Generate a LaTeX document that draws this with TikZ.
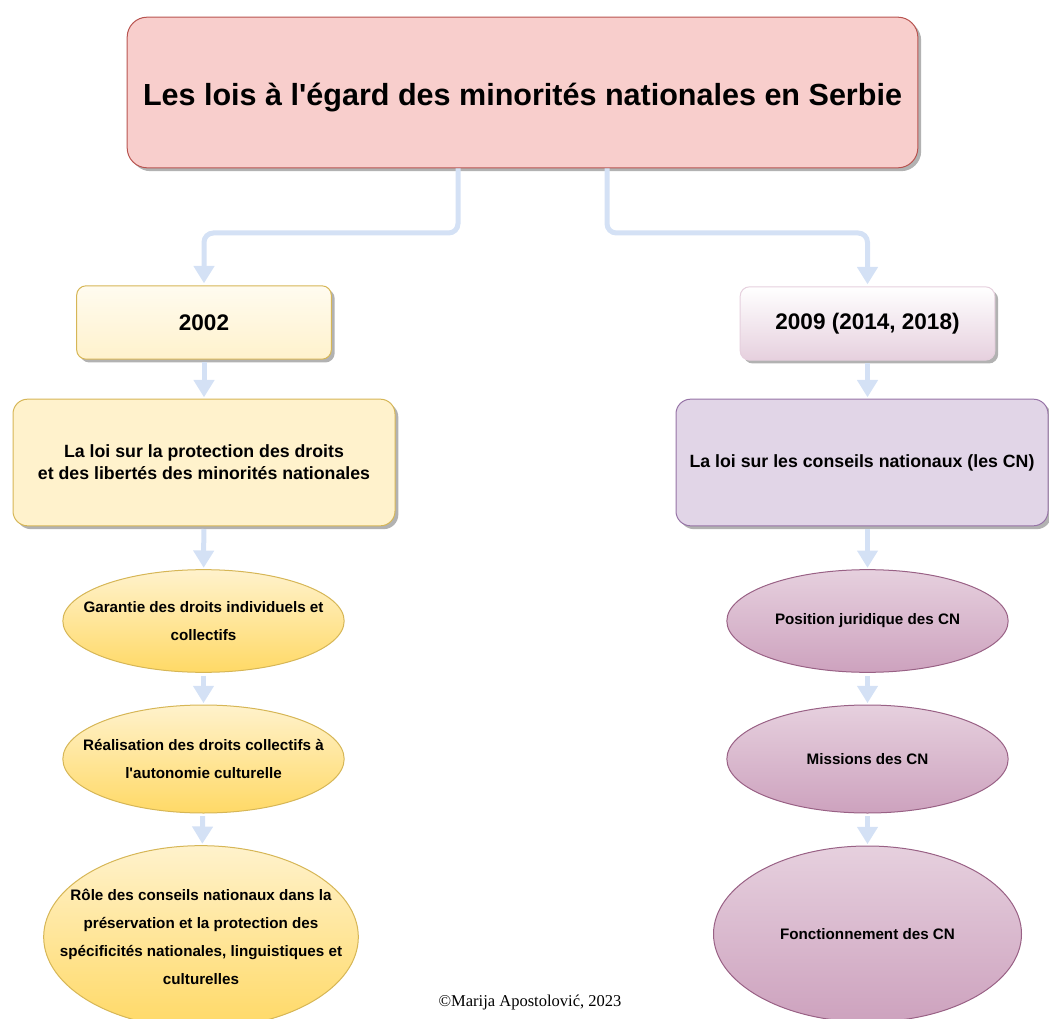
\documentclass[tikz,border=0pt]{standalone}
\usepackage{fontspec}
\setmainfont{Liberation Sans}
\newfontfamily\signfont{Liberation Serif}
\usetikzlibrary{arrows.meta,shapes.geometric,shadows}

\definecolor{titlefill}{RGB}{248,206,204}
\definecolor{titledraw}{RGB}{184,84,80}
\definecolor{yelfill}{RGB}{255,242,204}
\definecolor{yeldeep}{RGB}{255,217,102}
\definecolor{yeldraw}{RGB}{214,182,86}
\definecolor{lilfill}{RGB}{225,213,231}
\definecolor{lildraw}{RGB}{150,115,166}
\definecolor{pinkfill}{RGB}{230,208,222}
\definecolor{pinkdeep}{RGB}{205,162,190}
\definecolor{pinkdraw}{RGB}{153,97,133}
\definecolor{linkblue}{RGB}{212,225,245}

\tikzset{every picture/.style={line width=0.75pt}}
\tikzset{
	boxshadow/.style={drop shadow={shadow xshift=2.5pt,shadow yshift=-2.5pt,opacity=0.3,fill=black}},
	titlebox/.style={draw=titledraw,fill=titlefill,rounded corners=15pt,boxshadow,
		minimum width=593pt,minimum height=113pt,text height=25pt,text depth=5pt,
		font=\bfseries\fontsize{22.9}{27}\selectfont},
	yearbox/.style={rounded corners=7pt,boxshadow,minimum width=191pt,minimum height=55pt,
		font=\bfseries\fontsize{16.9}{20}\selectfont},
	lawbox/.style={rounded corners=11pt,boxshadow,minimum height=95pt,align=center,
		font=\bfseries\fontsize{13.3}{16.5}\selectfont},
	topic/.style={ellipse,inner sep=0pt},
	topicL/.style={topic,draw=yeldraw,top color=yelfill,bottom color=yeldeep},
	topicR/.style={topic,draw=pinkdraw,top color=pinkfill,bottom color=pinkdeep},
	topictext/.style={align=center,inner sep=0pt,font=\bfseries\fontsize{11.4}{21}\selectfont},
	link/.style={draw=linkblue,line width=3.75pt,rounded corners=7pt,
		-{Triangle[width=15pt,length=13pt]},shorten >=1.5pt},
	step link/.style={draw=linkblue,line width=3.75pt,
		-{Triangle[width=15pt,length=13pt]},shorten <=2pt,shorten >=1pt}
}

\begin{document}
\begin{tikzpicture}[x=0.75pt,y=0.75pt,yscale=-1,xscale=1]
	\useasboundingbox (0,0) rectangle (1049,1019);

	%Shape: Rectangle [title]
	\node [titlebox] (title) at (522.5,92.5) {Les lois à l\textquotesingle égard des minorités nationales en Serbie};

	%Shape: Rectangle [year boxes]
	\node [yearbox,draw=yeldraw,top color=white!70!yelfill,bottom color=yelfill] (y2002) at (204,322.5) {2002};
	\node [yearbox,draw=pinkfill,top color=white,bottom color=pinkfill] (y2009) at (867.5,323.5) {2009 (2014, 2018)};

	%Shape: Rectangle [law boxes]
	\node [lawbox,draw=yeldraw,fill=yelfill,minimum width=286.5pt] (lawL) at (204,462.5) {La loi sur la protection des droits\\et des libertés des minorités nationales};
	\node [lawbox,draw=lildraw,fill=lilfill,minimum width=279pt] (lawR) at (862,462.5) {La loi sur les conseils nationaux (les CN)};

	%Shape: Ellipse [left column]
	\node [topicL,minimum width=211pt,minimum height=77pt,
		label={[topictext]center:Garantie des droits individuels et\\collectifs}] (garL) at (203.5,621) {};
	\node [topicL,minimum width=211pt,minimum height=81pt,
		label={[topictext]center:Réalisation des droits collectifs à\\l\textquotesingle autonomie culturelle}] (reaL) at (203.5,759) {};
	\node [topicL,minimum width=236pt,minimum height=137pt,
		label={[topictext]center:Rôle des conseils nationaux dans la\\préservation et la protection des\\spécificités nationales, linguistiques et\\culturelles}] (roleL) at (201,937) {};

	%Shape: Ellipse [right column]
	\node [topicR,minimum width=211pt,minimum height=77pt,
		label={[topictext]center:Position juridique des CN}] (posR) at (867.5,621) {};
	\node [topicR,minimum width=211pt,minimum height=81pt,
		label={[topictext]center:Missions des CN}] (misR) at (867.5,759) {};
	\node [topicR,minimum width=231pt,minimum height=132pt,
		label={[topictext]center:Fonctionnement des CN}] (fonR) at (867.5,934) {};

	% Connectors
	\coordinate (lsplit) at (458,233);
	\coordinate (rsplit) at (607,233);
	\draw [link] (title.south -| lsplit) -- (lsplit) -| (y2002.north);
	\draw [link] (title.south -| rsplit) -- (rsplit) -| (y2009.north);
	\draw [step link] (y2002) -- (lawL);
	\draw [step link] (y2009) -- (y2009 |- lawR.north);
	\draw [step link] (lawL) -- (garL);
	\draw [step link] (garL) -- (reaL);
	\draw [step link] (reaL) -- (roleL);
	\draw [step link] (lawR.south -| posR) -- (posR);
	\draw [step link] (posR) -- (misR);
	\draw [step link] (misR) -- (fonR);

	% Text Node
	\node [font=\signfont\fontsize{12.4}{14}\selectfont] (sign) at (530,1003) {©Marija Apostolović, 2023};

\end{tikzpicture}
\end{document}
